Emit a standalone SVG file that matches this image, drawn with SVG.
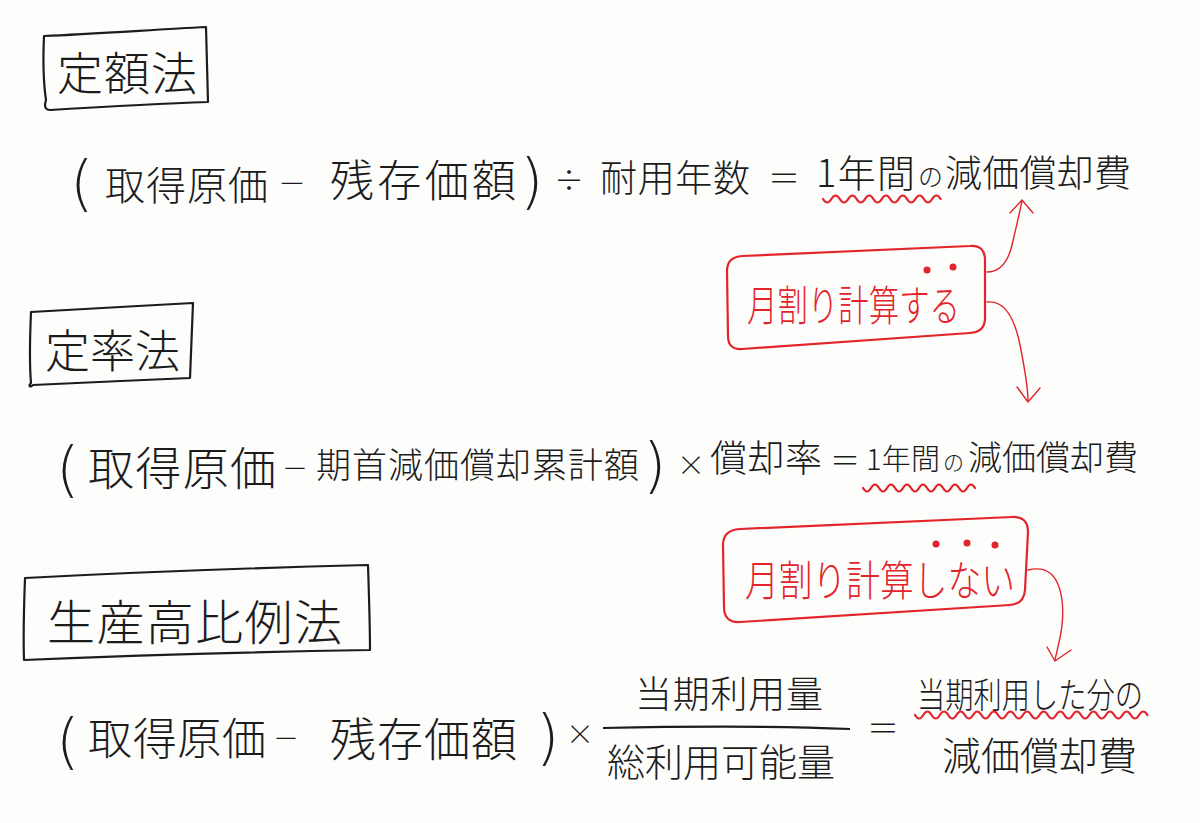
<svg xmlns="http://www.w3.org/2000/svg" width="1200" height="823" viewBox="0 0 1200 823">
<style>
text{font-family:"Noto Sans CJK JP","Noto Sans CJK SC",sans-serif;font-weight:300;fill:#1c1c1c}
.r{fill:#e3242b}
.box{fill:none;stroke:#1c1c1c;stroke-width:2.2;stroke-linejoin:round}
.rbox{fill:none;stroke:#e3242b;stroke-width:2.2;stroke-linejoin:round}
.wave{fill:none;stroke:#e3242b;stroke-width:2.2;stroke-linecap:round}
.arr{fill:none;stroke:#e3242b;stroke-width:1.4;stroke-linecap:round;stroke-linejoin:round}
.dot{fill:#e3242b}
.p{font-family:"DejaVu Sans",sans-serif;font-weight:200;font-size:60px}
.op{font-size:32px}
</style>
<rect width="1200" height="823" fill="#fdfdfc"/>

<g id="title-teigaku">
<path class="box" d="M44,36 C90,34 150,30 206,27 L208,102 C150,104 100,107 50,110 C45,110 44,106 46,100 C43,80 43,58 44,36 Z"/>
<text x="57" y="90" style="font-size:46px" textLength="140" lengthAdjust="spacing">定額法</text>
</g>

<g id="formula-teigaku">
<text class="p" x="70" y="204">(</text>
<text x="105" y="200" style="font-size:40px" textLength="163" lengthAdjust="spacing">取得原価</text>
<text class="op" x="278" y="194" style="font-size:28px">－</text>
<text x="330" y="197" style="font-size:44px" textLength="186" lengthAdjust="spacing">残存価額</text>
<text class="p" x="520" y="202">)</text>
<text class="op" x="554" y="191" style="font-size:30px">÷</text>
<text x="600" y="192" style="font-size:37px" textLength="150" lengthAdjust="spacing">耐用年数</text>
<text class="op" x="768" y="190">＝</text>
<text x="816" y="187" style="font-size:38px" textLength="99" lengthAdjust="spacing">1年間</text>
<text x="918" y="186" style="font-size:25px">の</text>
<text x="945" y="187" style="font-size:37px" textLength="186" lengthAdjust="spacing">減価償却費</text>
<path class="wave" d="M823,199 q4.2,7 8.4,0 t8.4,0 t8.4,0 t8.4,0 t8.4,0 t8.4,0 t8.4,0 t8.4,0 t8.4,0 t8.4,0 t8.4,0 t8.4,0 t8.4,0 t8.4,0"/>
</g>

<g id="note-monthly">
<path class="rbox" d="M742,256 L970,246 Q985,245 985,260 L985,318 Q985,332 970,333 L742,349 Q728,350 728,336 L727,271 Q727,257 742,256 Z"/>
<text class="r" x="747" y="321" style="font-size:42px" textLength="213" lengthAdjust="spacingAndGlyphs">月割り計算する</text>
<circle class="dot" cx="927" cy="270" r="3.5"/>
<circle class="dot" cx="953" cy="267" r="3.5"/>
</g>

<g id="title-teiritsu">
<path class="box" d="M31,312 C80,309 140,306 193,303 C192,330 191,355 190,378 C140,380 80,383 33,385 C30,388 28,386 31,383 C29,360 30,335 31,312 Z"/>
<text x="45" y="368" style="font-size:45px" textLength="135" lengthAdjust="spacing">定率法</text>
</g>

<g id="formula-teiritsu">
<text class="p" x="56" y="490">(</text>
<text x="88" y="485" style="font-size:46px" textLength="188" lengthAdjust="spacing">取得原価</text>
<text class="op" x="282" y="478" style="font-size:26px">－</text>
<text x="316" y="478" style="font-size:35px" textLength="323" lengthAdjust="spacing">期首減価償却累計額</text>
<text class="p" x="643" y="486">)</text>
<text class="op" x="677" y="476" style="font-size:28px">×</text>
<text x="710" y="472" style="font-size:37px" textLength="112" lengthAdjust="spacing">償却率</text>
<text class="op" x="830" y="471" style="font-size:30px">＝</text>
<text x="866" y="470" style="font-size:29px" textLength="74" lengthAdjust="spacing">1年間</text>
<text x="943" y="470" style="font-size:21px">の</text>
<text x="968" y="470" style="font-size:34px" textLength="170" lengthAdjust="spacing">減価償却費</text>
<path class="wave" d="M863,488 q4,7 8,0 t8,0 t8,0 t8,0 t8,0 t8,0 t8,0 t8,0 t8,0 t8,0 t8,0 t8,0 t8,0 t8,0"/>
</g>

<g id="note-not-monthly">
<path class="rbox" d="M740,529 L1012,517 Q1028,516 1028,532 L1025,590 Q1024,604 1010,605 L740,622 Q724,623 724,607 L723,545 Q723,530 740,529 Z"/>
<text class="r" x="745" y="596" style="font-size:42px" textLength="270" lengthAdjust="spacingAndGlyphs">月割り計算しない</text>
<circle class="dot" cx="936" cy="544" r="3.5"/>
<circle class="dot" cx="967" cy="543" r="3.5"/>
<circle class="dot" cx="995" cy="545" r="3.5"/>
</g>

<g id="title-seisandaka">
<path class="box" d="M25,578 C120,573 250,568 368,565 C369,595 370,625 370,650 C250,652 120,656 24,660 C23,632 24,605 25,578 Z"/>
<text x="47" y="640" style="font-size:48px" textLength="295" lengthAdjust="spacing">生産高比例法</text>
</g>

<g id="formula-seisandaka">
<text class="p" x="56" y="762">(</text>
<text x="88" y="755" style="font-size:44px" textLength="178" lengthAdjust="spacing">取得原価</text>
<text class="op" x="273" y="748" style="font-size:26px">－</text>
<text x="330" y="756" style="font-size:46px" textLength="187" lengthAdjust="spacing">残存価額</text>
<text class="p" x="536" y="758">)</text>
<text class="op" x="566" y="745" style="font-size:28px">×</text>
<text x="635" y="708" style="font-size:37px" textLength="188" lengthAdjust="spacing">当期利用量</text>
<path class="box" d="M603,728 C700,726 780,726 850,729"/>
<text x="607" y="776" style="font-size:38px" textLength="228" lengthAdjust="spacing">総利用可能量</text>
<text class="op" x="867" y="740">＝</text>
<text x="917" y="708" style="font-size:35px" textLength="226" lengthAdjust="spacingAndGlyphs">当期利用した分の</text>
<path class="wave" d="M915,715 q4.15,7 8.3,0 t8.3,0 t8.3,0 t8.3,0 t8.3,0 t8.3,0 t8.3,0 t8.3,0 t8.3,0 t8.3,0 t8.3,0 t8.3,0 t8.3,0 t8.3,0 t8.3,0 t8.3,0 t8.3,0 t8.3,0 t8.3,0 t8.3,0 t8.3,0 t8.3,0 t8.3,0 t8.3,0 t8.3,0 t8.3,0 t8.3,0 t8.3,0"/>
<text x="942" y="770" style="font-size:39px" textLength="195" lengthAdjust="spacing">減価償却費</text>
</g>

<g id="connectors">
<path class="arr" d="M987,272 C1000,272 1008,262 1012,245 C1016,228 1019,215 1022,201"/>
<path class="arr" d="M1010,213 L1022,200 L1033,213"/>
<path class="arr" d="M987,302 C1005,300 1015,320 1020,345 C1025,370 1028,390 1028,401"/>
<path class="arr" d="M1017,387 L1028,402 L1040,388"/>
<path class="arr" d="M1028,570 C1045,566 1058,572 1062,600 C1065,625 1058,645 1055,660"/>
<path class="arr" d="M1047,647 L1055,661 L1071,650"/>
</g>
</svg>
